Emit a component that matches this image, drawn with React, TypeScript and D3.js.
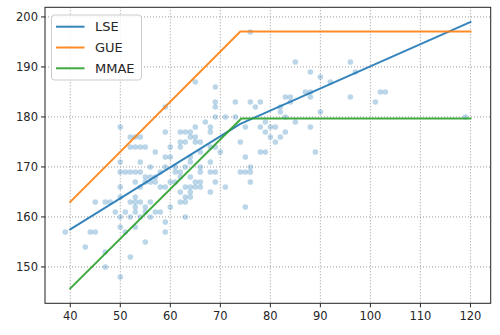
import React from "react";
import * as d3 from "d3";

const xTicks = [40, 50, 60, 70, 80, 90, 100, 110, 120];
const yTicks = [150, 160, 170, 180, 190, 200];

const scatterX = [
  39, 43, 44, 45, 45, 47, 47, 47, 48, 49,
  50, 50, 50, 50, 50, 50, 50, 50, 51, 51, 51,
  52, 52, 52, 52, 52, 52,
  53, 53, 53, 53, 53, 53, 53, 53, 53,
  54, 54, 54, 54, 54, 54, 54,
  55, 55, 55, 55, 55, 55,
  56, 56, 56, 56, 56,
  57, 57, 57, 57,
  58, 58, 58,
  59, 59, 59, 59, 59, 59, 59,
  60, 60, 60, 60,
  61, 61, 61,
  62, 62, 62, 62, 62, 62, 62,
  63, 63, 63, 63, 63, 63, 63,
  64, 64, 64, 64, 64, 64, 64, 64,
  65, 65, 65, 65, 65, 65,
  66, 66, 66, 66, 66, 66,
  67,
  68, 68, 68, 68, 68, 68,
  69, 69, 69, 69, 69, 69, 69,
  70, 71, 71, 73, 73, 74, 74,
  75, 75, 75, 75,
  76, 76, 76, 76, 76,
  77, 78, 78, 78, 79, 79, 79,
  80, 80, 81, 81, 82, 82, 82,
  83, 83, 83, 84, 84, 85, 85, 87,
  88, 88, 88, 88, 89, 90, 90, 92,
  96, 96, 97, 101, 102, 103, 119,
];
const scatterY = [
  157, 154, 157, 157, 163, 163, 153, 150, 163, 161,
  178, 171, 169, 166, 164, 160, 158, 148, 161, 169, 157,
  176, 174, 169, 163, 160, 152,
  176, 174, 169, 167, 164, 163, 162, 161, 158,
  176, 174, 171, 169, 166, 163, 160,
  174, 168, 167, 162, 161, 155,
  170, 168, 167, 163, 160,
  173, 168, 167, 161,
  169, 166, 161,
  182, 177, 172, 170, 166, 159, 157,
  174, 172, 167, 162,
  170, 167, 169,
  177, 175, 174, 169, 168, 165, 163,
  177, 175, 170, 166, 164, 163, 160,
  177, 176, 172, 171, 168, 166, 165, 164,
  187, 178, 176, 175, 167, 166,
  175, 173, 170, 169, 167, 166,
  179,
  178, 177, 174, 171, 169, 165,
  186, 183, 182, 180, 174, 169, 167,
  173, 180, 166, 183, 180, 175, 169,
  178, 172, 169, 162,
  197, 183, 170, 169, 167,
  182, 183, 178, 173, 179, 177, 173,
  178, 176, 178, 175, 182, 181, 176,
  184, 180, 177, 184, 183, 191, 179, 185,
  189, 185, 184, 178, 173, 188, 181, 187,
  191, 184, 189, 183, 185, 185, 180,
];

const lineX = [40, 74, 120];
const lseY = [157.5, 178.6, 199];
const gueY = [163, 197.1, 197.1];
const mmaeLineX = [40, 74.2, 120];
const mmaeY = [145.7, 179.7, 179.7];

const seriesNames = ["LSE", "GUE", "MMAE"];
const seriesColors = ["#1f77b4", "#ff7f0e", "#2ca02c"];

export default function App() {
  const left = 45, right = 490.7, top = 7.3, bottom = 303.3;
  const x = d3.scaleLinear().domain([34.95, 124.05]).range([left, right]);
  const y = d3.scaleLinear().domain([142.73, 201.93]).range([bottom, top]);
  const line = d3
    .line<[number, number]>()
    .x((d) => x(d[0]))
    .y((d) => y(d[1]));
  const lse = line(lineX.map((v, i) => [v, lseY[i]] as [number, number]));
  const gue = line(lineX.map((v, i) => [v, gueY[i]] as [number, number]));
  const mmae = line(mmaeLineX.map((v, i) => [v, mmaeY[i]] as [number, number]));
  const paths = [lse, gue, mmae];
  const font = "DejaVu Sans, sans-serif";

  return (
    <div style={{ position: "fixed", left: 0, top: 0 }}>
      <svg width={500} height={335} style={{ display: "block", background: "#fff" }}>
        {/* grid */}
        {xTicks.map((t) => (
          <line key={"gx" + t} x1={x(t)} x2={x(t)} y1={top} y2={bottom}
            stroke="#999999" strokeWidth={1} strokeDasharray="1,2" />
        ))}
        {yTicks.map((t) => (
          <line key={"gy" + t} x1={left} x2={right} y1={y(t)} y2={y(t)}
            stroke="#999999" strokeWidth={1} strokeDasharray="1,2" />
        ))}
        {/* scatter */}
        {scatterX.map((v, i) => (
          <circle key={"p" + i} cx={x(v)} cy={y(scatterY[i])} r={2.8}
            fill="#1f77b4" fillOpacity={0.3} />
        ))}
        {/* lines */}
        {paths.map((p, i) => (
          <path key={"l" + i} d={p || ""} fill="none" stroke={seriesColors[i]}
            strokeOpacity={0.9} strokeWidth={2} strokeLinejoin="round" strokeLinecap="square" />
        ))}
        {/* frame */}
        <rect x={left} y={top} width={right - left} height={bottom - top}
          fill="none" stroke="#222" strokeWidth={1} />
        {/* x ticks */}
        {xTicks.map((t) => (
          <g key={"xt" + t}>
            <line x1={x(t)} x2={x(t)} y1={bottom} y2={bottom + 4} stroke="#222" strokeWidth={1} />
            <text x={x(t)} y={bottom + 17} textAnchor="middle" fontFamily={font}
              fontSize={11.5} fill="#262626">{t}</text>
          </g>
        ))}
        {/* y ticks */}
        {yTicks.map((t) => (
          <g key={"yt" + t}>
            <line x1={left - 4} x2={left} y1={y(t)} y2={y(t)} stroke="#222" strokeWidth={1} />
            <text x={left - 7} y={y(t)} dy="0.35em" textAnchor="end" fontFamily={font}
              fontSize={11.5} fill="#262626">{t}</text>
          </g>
        ))}
        {/* legend */}
        <rect x={51.5} y={15} width={90} height={65} rx={3} fill="#fff" fillOpacity={0.8}
          stroke="#cccccc" strokeWidth={1} />
        {seriesNames.map((n, i) => {
          const ly = 26.7 + i * 20.8;
          return (
            <g key={"lg" + n}>
              <line x1={56} x2={84.5} y1={ly} y2={ly} stroke={seriesColors[i]}
                strokeOpacity={0.9} strokeWidth={2} />
              <text x={95} y={ly} dy="0.36em" fontFamily={font} fontSize={13} fill="#262626">{n}</text>
            </g>
          );
        })}
      </svg>
    </div>
  );
}
